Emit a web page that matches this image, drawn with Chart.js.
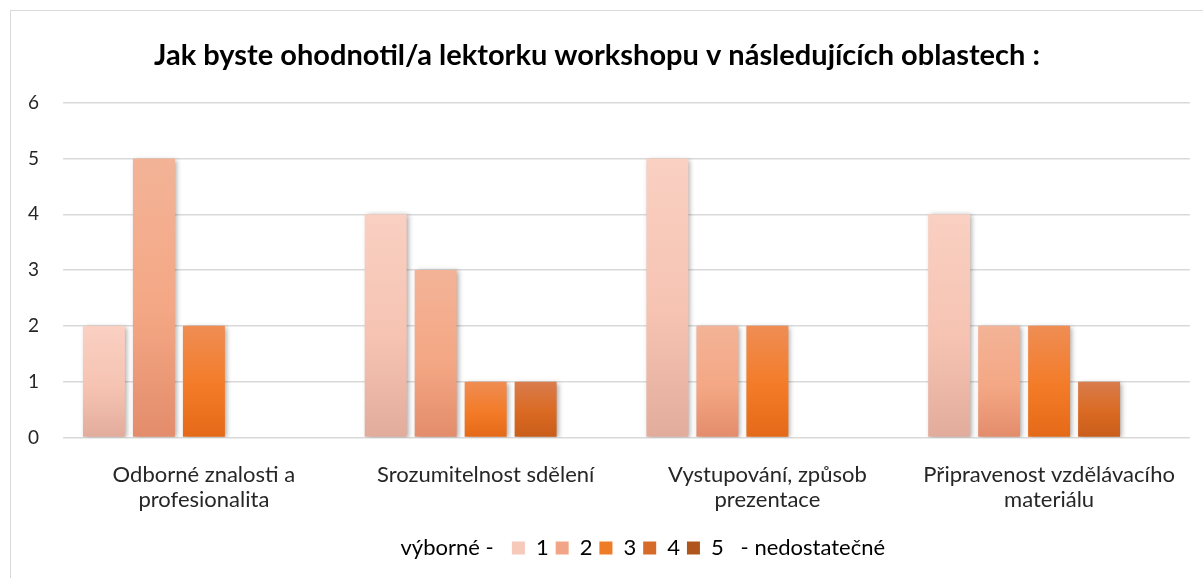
<!DOCTYPE html>
<html>
<head>
<meta charset="utf-8">
<script src="https://cdn.jsdelivr.net/npm/chart.js@4.4.1/dist/chart.umd.min.js"></script>
<style>
    html, body { margin: 0; padding: 0; background: #fff; }
    #frame {
        position: absolute; left: 10px; top: 10px;
        width: 1200px; height: 600px;
        border: 1px solid #d9d9d9;
    }
    #wrap { position: absolute; left: 0; top: 0; width: 1203px; height: 578px; }
</style>
</head>
<body>
<div id="frame"></div>
<div id="wrap"><canvas id="ratingChart"></canvas></div>
<script>
const categories = [
    ['Odborné znalosti a', 'profesionalita'],
    'Srozumitelnost sdělení',
    ['Vystupování, způsob', 'prezentace'],
    ['Připravenost vzdělávacího', 'materiálu']
];
const ratingLabels = ['1', '2', '3', '4', '5'];
const rating1 = [2, 4, 5, 4];
const rating2 = [5, 3, 2, 2];
const rating3 = [2, 1, 2, 2];
const rating4 = [0, 1, 0, 1];
const rating5 = [0, 0, 0, 0];
const yTicks = [0, 1, 2, 3, 4, 5, 6];
const scaleBest = 'výborné -';
const scaleWorst = '- nedostatečné';

// top / middle / bottom colour of each bar's fill
const shades = [
    ['#f9d0c2', '#f6c3b2', '#e2ac9c'],
    ['#f3b397', '#f4a784', '#e38c6c'],
    ['#ef8d54', '#f37b27', '#e46918'],
    ['#d97c4d', '#da6a22', '#c85d1a'],
    ['#b9612e', '#b05519', '#9f4a12']
];
const swatches = ['#f7c9ba', '#f1a586', '#f07b26', '#d56a29', '#b0561c'];

function barFill(stops) {
    return (ctx) => {
        const chart = ctx.chart;
        if (ctx.type !== 'data' || !chart.scales.y) return stops[1];
        const y = chart.scales.y;
        const top = y.getPixelForValue(ctx.raw);
        const base = y.getPixelForValue(0);
        if (!isFinite(top) || top === base) return stops[1];
        const g = chart.ctx.createLinearGradient(0, top, 0, base);
        g.addColorStop(0, stops[0]);
        g.addColorStop(0.55, stops[1]);
        g.addColorStop(1, stops[2]);
        return g;
    };
}

const series = [rating1, rating2, rating3, rating4, rating5];

const barShadow = {
    id: 'barShadow',
    beforeDatasetsDraw(chart) {
        const c = chart.ctx;
        c.save();
        c.shadowColor = 'rgba(0, 0, 0, 0.35)';
        c.shadowBlur = 5;
        c.shadowOffsetX = 2;
        c.shadowOffsetY = 1;
    },
    afterDatasetsDraw(chart) {
        chart.ctx.restore();
    }
};

Chart.defaults.font.family = 'Lato, "Open Sans", sans-serif';

new Chart(document.getElementById('ratingChart'), {
    type: 'bar',
    data: {
        labels: categories,
        datasets: series.map((values, i) => ({
            label: ratingLabels[i],
            data: values,
            backgroundColor: barFill(shades[i]),
            borderWidth: 0,
            categoryPercentage: 0.887,
            barPercentage: 0.84
        }))
    },
    options: {
        responsive: true,
        maintainAspectRatio: false,
        animation: false,
        layout: { padding: { left: 4, right: 13, top: 0, bottom: 9 } },
        scales: {
            x: {
                grid: { display: false },
                border: { display: false },
                ticks: {
                    color: '#262626',
                    font: { size: 22, lineHeight: 1.15 },
                    padding: 17,
                    maxRotation: 0,
                    autoSkip: false
                }
            },
            y: {
                min: 0,
                max: 6,
                afterBuildTicks(scale) {
                    scale.ticks = yTicks.map(v => ({ value: v }));
                },
                grid: { color: '#d9d9d9', lineWidth: 1.5, drawTicks: false },
                border: { display: false },
                ticks: { color: '#262626', font: { size: 19 }, padding: 24 }
            }
        },
        plugins: {
            title: {
                display: true,
                text: 'Jak byste ohodnotil/a lektorku workshopu v následujících oblastech :',
                color: '#000',
                font: { size: 29, weight: 'bold' },
                padding: { top: 38, bottom: 30 }
            },
            legend: {
                position: 'bottom',
                labels: {
                    color: '#262626',
                    font: { size: 22 },
                    boxWidth: 13,
                    boxHeight: 13,
                    padding: 7,
                    generateLabels(chart) {
                        const blank = 'rgba(0,0,0,0)';
                        // the leading spaces keep the whole row balanced around the scale words
                        const items = [{
                            text: ' '.repeat(12) + scaleBest + '  ',
                            fillStyle: blank, strokeStyle: blank, lineWidth: 0
                        }];
                        const last = chart.data.datasets.length - 1;
                        chart.data.datasets.forEach((ds, i) => {
                            items.push({
                                text: i === last ? ds.label + '   ' + scaleWorst : ds.label,
                                fillStyle: swatches[i],
                                strokeStyle: swatches[i],
                                lineWidth: 0,
                                hidden: !chart.isDatasetVisible(i),
                                datasetIndex: i
                            });
                        });
                        return items;
                    }
                },
                onClick(e, item, legend) {
                    if (item.datasetIndex === undefined) return;
                    Chart.defaults.plugins.legend.onClick.call(this, e, item, legend);
                }
            },
            tooltip: { enabled: false }
        }
    },
    plugins: [barShadow]
});
</script>
</body>
</html>
